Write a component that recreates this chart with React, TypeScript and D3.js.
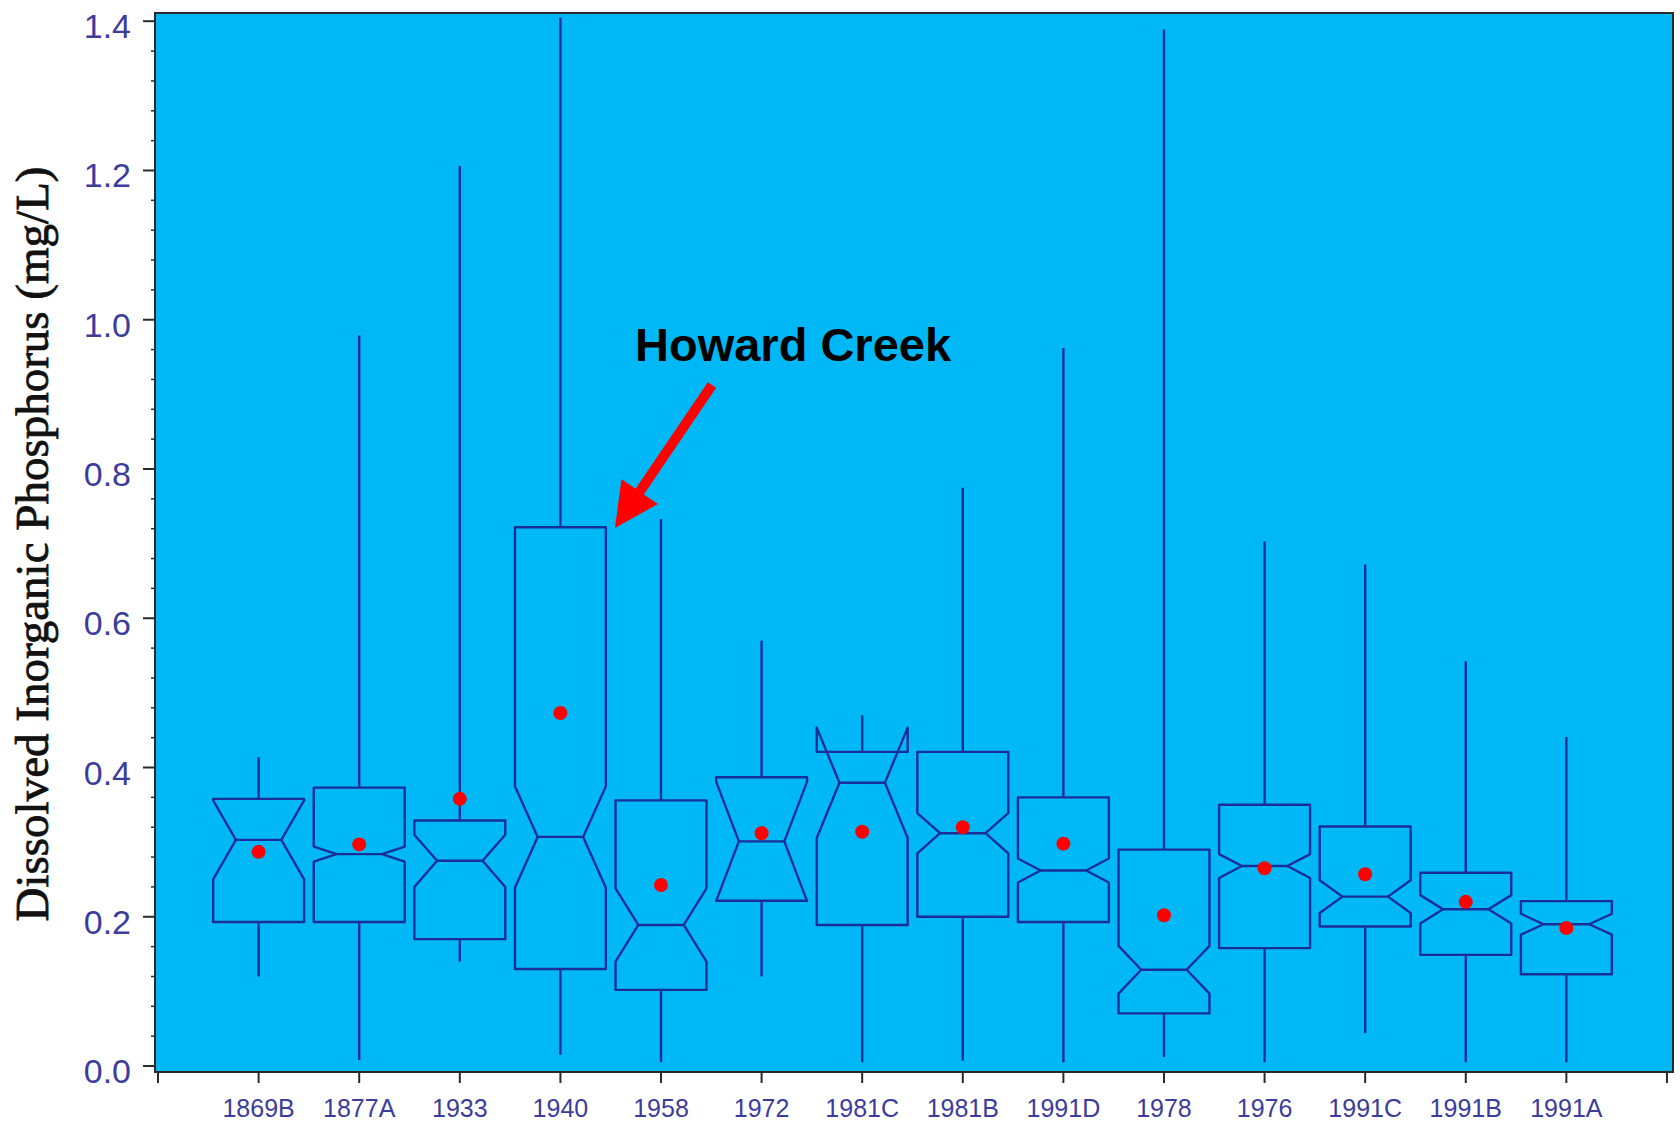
import * as d3 from "d3";

// station labels along the x axis
const sites = ["1869B", "1877A", "1933", "1940", "1958", "1972", "1981C", "1981B", "1991D", "1978", "1976", "1991C", "1991B", "1991A"];
// box-plot statistics (mg/L)
const minVals = [0.12, 0.008, 0.14, 0.015, 0.005, 0.12, 0.005, 0.007, 0.005, 0.012, 0.005, 0.044, 0.005, 0.005];
const q1Vals = [0.193, 0.193, 0.17, 0.13, 0.102, 0.2215, 0.189, 0.2, 0.193, 0.0705, 0.158, 0.187, 0.149, 0.123];
const medVals = [0.303, 0.284, 0.275, 0.307, 0.189, 0.301, 0.3795, 0.312, 0.262, 0.129, 0.268, 0.227, 0.21, 0.19];
const q3Vals = [0.358, 0.373, 0.329, 0.722, 0.356, 0.387, 0.421, 0.421, 0.36, 0.29, 0.35, 0.321, 0.259, 0.221];
const maxVals = [0.414, 0.979, 1.206, 1.405, 0.733, 0.57, 0.47, 0.775, 0.962, 1.389, 0.703, 0.672, 0.5425, 0.441];
const notchVals = [0.053, 0.01, 0.035, 0.068, 0.049, 0.08, 0.074, 0.027, 0.016, 0.032, 0.016, 0.022, 0.019, 0.014];
const meanVals = [0.287, 0.297, 0.358, 0.473, 0.2425, 0.312, 0.314, 0.32, 0.298, 0.202, 0.265, 0.257, 0.22, 0.185];
const yTicks = [0, 0.2, 0.4, 0.6, 0.8, 1.0, 1.2, 1.4];

const W = 1680;
const H = 1128;
const plot = { left: 155, right: 1673, top: 13, bottom: 1072 };

const BG = "#00b8f6";
const LINE = "#1a2e9a";
const TICK_TEXT = "#3c3c9c";

const App = () => {
  const x = d3.scaleLinear().domain([-0.03, sites.length + 1.06]).range([plot.left, plot.right]);
  const y = d3.scaleLinear().domain([-0.008, 1.411]).range([plot.bottom, plot.top]);

  const step = x(1) - x(0);
  const halfW = step * 0.452;
  const inset = halfW * 0.5;

  const minorTicks = d3.range(0, 1.4001, 0.04).filter(v => !yTicks.some(t => Math.abs(t - v) < 1e-6));

  const notchPath = (i: number) => {
    const cx = x(i + 1);
    const L = cx - halfW;
    const R = cx + halfW;
    const med = medVals[i];
    const lowN = med - notchVals[i];
    const upN = med + notchVals[i];
    const p = d3.path();
    p.moveTo(L, y(q1Vals[i]));
    p.lineTo(L, y(lowN));
    p.lineTo(L + inset, y(med));
    p.lineTo(L, y(upN));
    p.lineTo(L, y(q3Vals[i]));
    p.lineTo(R, y(q3Vals[i]));
    p.lineTo(R, y(upN));
    p.lineTo(R - inset, y(med));
    p.lineTo(R, y(lowN));
    p.lineTo(R, y(q1Vals[i]));
    p.closePath();
    return p.toString();
  };

  // annotation arrow (red), tail -> tip
  const tail: [number, number] = [712, 385];
  const tip: [number, number] = [615, 528];
  const dx = tip[0] - tail[0];
  const dy = tip[1] - tail[1];
  const len = Math.hypot(dx, dy);
  const ux = dx / len;
  const uy = dy / len;
  const nx = -uy;
  const ny = ux;
  const headLen = 44;
  const headHalf = 22;
  const shaftHalf = 5;
  const bx = tip[0] - ux * headLen;
  const by = tip[1] - uy * headLen;
  const arrowPts = [
    [tail[0] + nx * shaftHalf, tail[1] + ny * shaftHalf],
    [bx + nx * shaftHalf, by + ny * shaftHalf],
    [bx + nx * headHalf, by + ny * headHalf],
    tip,
    [bx - nx * headHalf, by - ny * headHalf],
    [bx - nx * shaftHalf, by - ny * shaftHalf],
    [tail[0] - nx * shaftHalf, tail[1] - ny * shaftHalf],
  ]
    .map(pt => pt.join(","))
    .join(" ");

  return (
    <div style={{ position: "absolute", left: 0, top: 0 }}>
      <svg width={W} height={H} viewBox={`0 0 ${W} ${H}`} style={{ display: "block", background: "#fff" }}>
        <rect x={plot.left} y={plot.top} width={plot.right - plot.left} height={plot.bottom - plot.top} fill={BG} />

        {/* whiskers */}
        {sites.map((s, i) => (
          <g key={`w-${s}`} stroke={LINE} strokeWidth={2.4}>
            <line x1={x(i + 1)} x2={x(i + 1)} y1={y(q3Vals[i])} y2={y(maxVals[i])} />
            <line x1={x(i + 1)} x2={x(i + 1)} y1={y(q1Vals[i])} y2={y(minVals[i])} />
          </g>
        ))}

        {/* notched boxes */}
        {sites.map((s, i) => (
          <g key={`b-${s}`} fill="none" stroke={LINE} strokeWidth={2.4} strokeLinejoin="round">
            <path d={notchPath(i)} />
            <line x1={x(i + 1) - halfW + inset} x2={x(i + 1) + halfW - inset} y1={y(medVals[i])} y2={y(medVals[i])} />
          </g>
        ))}

        {/* means */}
        {sites.map((s, i) => (
          <circle key={`m-${s}`} cx={x(i + 1)} cy={y(meanVals[i])} r={7} fill="#ff0000" />
        ))}

        {/* frame */}
        <rect
          x={plot.left}
          y={plot.top}
          width={plot.right - plot.left}
          height={plot.bottom - plot.top}
          fill="none"
          stroke="#2a2a2a"
          strokeWidth={2}
        />

        {/* y axis */}
        {yTicks.map(t => (
          <g key={`yt-${t}`}>
            <line x1={plot.left - 12} x2={plot.left} y1={y(t)} y2={y(t)} stroke="#2a2a2a" strokeWidth={2} />
            <text
              x={131}
              y={y(t) + 17}
              textAnchor="end"
              fontFamily="Arial, 'Liberation Sans', sans-serif"
              fontSize={34}
              fill={TICK_TEXT}
            >
              {t.toFixed(1)}
            </text>
          </g>
        ))}
        {minorTicks.map(t => (
          <line key={`ym-${t}`} x1={plot.left - 4} x2={plot.left} y1={y(t)} y2={y(t)} stroke="#2a2a2a" strokeWidth={1.5} />
        ))}

        {/* x axis */}
        {d3.range(0, sites.length + 2).map(k => (
          <line key={`xt-${k}`} x1={x(k)} x2={x(k)} y1={plot.bottom} y2={plot.bottom + 11} stroke="#2a2a2a" strokeWidth={2} />
        ))}
        {sites.map((s, i) => (
          <text
            key={`xl-${s}`}
            x={x(i + 1)}
            y={1117}
            textAnchor="middle"
            fontFamily="Arial, 'Liberation Sans', sans-serif"
            fontSize={25}
            fill={TICK_TEXT}
          >
            {s}
          </text>
        ))}

        {/* y axis title */}
        <text
          transform="translate(48, 544) rotate(-90)"
          textAnchor="middle"
          fontFamily="'Times New Roman', 'Liberation Serif', serif"
          fontSize={47}
          fill="#111"
          stroke="#111"
          strokeWidth={0.8}
        >
          Dissolved Inorganic Phosphorus (mg/L)
        </text>

        {/* annotation */}
        <text x={635} y={361} fontFamily="Arial, 'Liberation Sans', sans-serif" fontWeight="bold" fontSize={47} fill="#000">
          Howard Creek
        </text>
        <polygon points={arrowPts} fill="#ff0000" />
      </svg>
    </div>
  );
};

export default App;
